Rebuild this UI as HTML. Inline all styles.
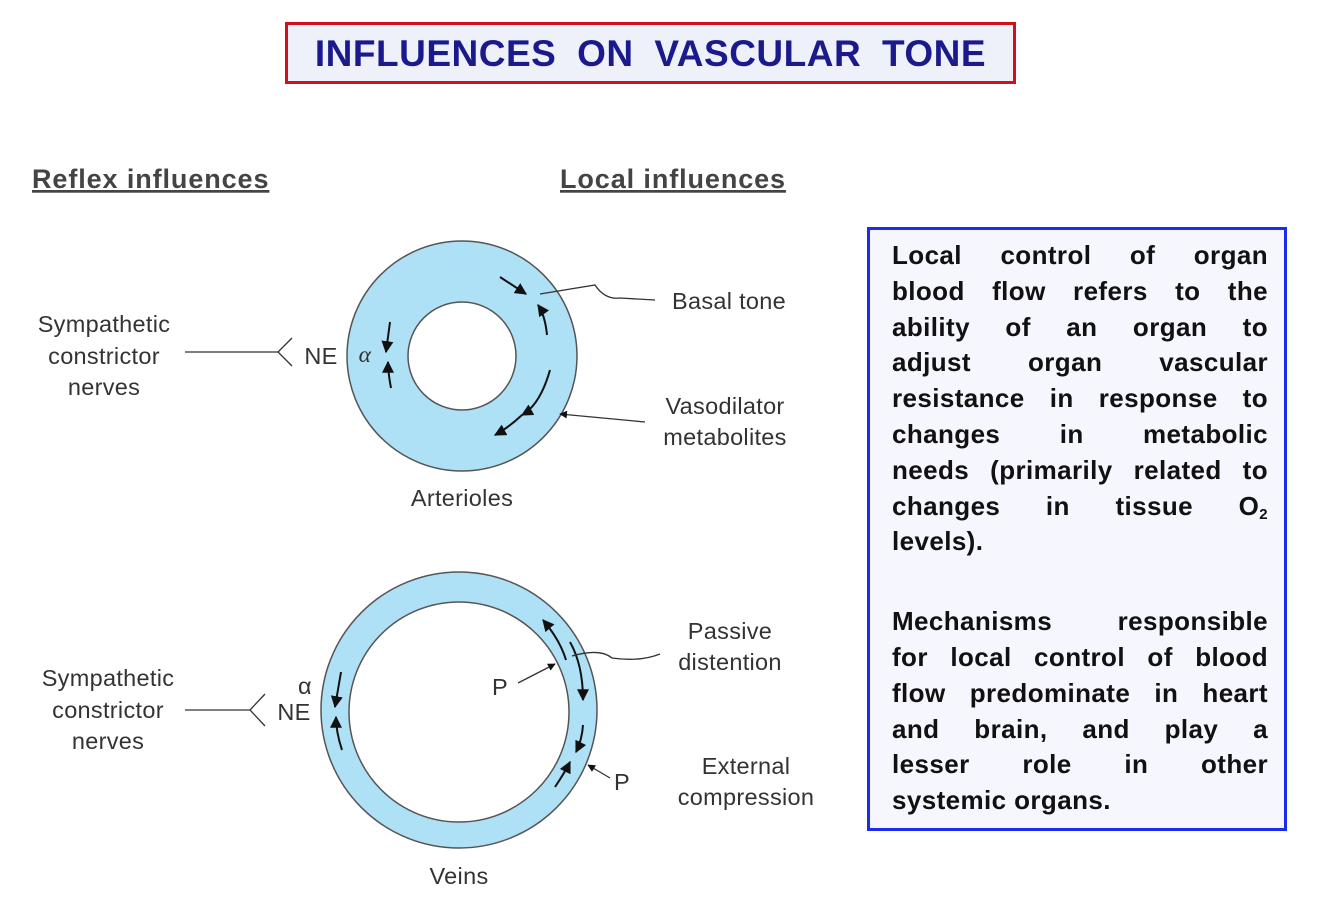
<!DOCTYPE html>
<html><head><meta charset="utf-8"><style>
body{margin:0;width:1328px;height:906px;background:#fff;position:relative;overflow:hidden;font-family:"Liberation Sans",Arial,sans-serif}
.title{position:absolute;left:285px;top:22px;width:725px;height:56px;border:3px solid #d0101a;background:#eef0fa;color:#1a1a8c;font-weight:bold;font-size:37px;text-align:center;line-height:58px;word-spacing:10px;letter-spacing:0.5px}
.box{position:absolute;left:867px;top:227px;width:376px;height:582px;border:3px solid #1a2cf0;background:#f6f6fe;padding:8px 16px 8px 22px;font-weight:bold;font-size:26px;letter-spacing:0.4px;line-height:35.8px;color:#111}
.box div{height:35.8px;text-align:justify;text-align-last:justify;white-space:nowrap}
.box div.l{text-align-last:left}
.box div.gap{height:44px}
sub{font-size:15px;line-height:0;vertical-align:-4px}
svg{position:absolute;left:0;top:0}
</style></head><body>
<div class="title">INFLUENCES ON VASCULAR TONE</div>
<svg width="860" height="906" font-family="Liberation Sans, Arial, sans-serif" fill="#333">
<defs><marker id="a" viewBox="0 0 10 10" refX="9" refY="5" markerWidth="6" markerHeight="6" orient="auto"><path d="M0,0L10,5L0,10z" fill="#111"/></marker></defs>
<g font-size="27" fill="#444" text-decoration="underline" font-weight="bold" letter-spacing="0.9">
<text x="32" y="188">Reflex influences</text>
<text x="560" y="188">Local influences</text></g>
<circle cx="462" cy="356" r="115" fill="#aee0f6" stroke="#555" stroke-width="1.5"/>
<circle cx="462" cy="356" r="54" fill="#fff" stroke="#555" stroke-width="1.5"/>
<circle cx="459" cy="710" r="138" fill="#aee0f6" stroke="#555" stroke-width="1.5"/>
<circle cx="459" cy="712" r="110" fill="#fff" stroke="#555" stroke-width="1.5"/>
<g stroke="#111" stroke-width="2" fill="none" marker-end="url(#a)">
<path d="M500,277 L526,294"/><path d="M547,335 Q545,315 538,305"/>
<path d="M550,370 Q540,405 522,415"/><path d="M522,415 Q508,428 495,435"/>
<path d="M390,322 L386,352"/><path d="M391,388 Q388,372 388,362"/>
<path d="M566,660 Q560,640 543,620"/><path d="M570,642 Q583,665 583,700"/>
<path d="M583,725 Q582,740 576,752"/><path d="M555,787 Q565,772 570,762"/>
<path d="M341,672 L335,707"/><path d="M342,750 Q336,732 336,717"/>
</g>
<g stroke="#333" stroke-width="1.3" fill="none">
<path d="M540,294 L595,285 Q605,300 620,298 L655,300"/>
<path d="M645,422 L560,414" marker-end="url(#a)"/>
<path d="M185,352 L278,352 M292,338 L278,352 L292,366"/>
<path d="M185,710 L250,710 M265,694 L250,710 L265,726"/>
<path d="M572,656 Q600,648 612,658 Q640,662 660,654"/>
<path d="M518,683 L555,664" marker-end="url(#a)"/>
<path d="M610,778 L588,765" marker-end="url(#a)"/>
</g>
<g font-size="23.5" fill="#333" text-anchor="middle" letter-spacing="0.3">
<text x="104" y="332">Sympathetic</text><text x="104" y="364">constrictor</text><text x="104" y="395">nerves</text>
<text x="108" y="686">Sympathetic</text><text x="108" y="718">constrictor</text><text x="108" y="749">nerves</text>
<text x="462" y="506">Arterioles</text><text x="459" y="884">Veins</text>
<text x="729" y="309">Basal tone</text>
<text x="725" y="414">Vasodilator</text><text x="725" y="445">metabolites</text>
<text x="730" y="639">Passive</text><text x="730" y="670">distention</text>
<text x="746" y="774">External</text><text x="746" y="805">compression</text>
<text x="321" y="364">NE</text><text x="294" y="720">NE</text>
<text x="305" y="694">α</text>
<text x="365" y="362" font-style="italic" font-family="Liberation Serif, serif">α</text>
<text x="500" y="695">P</text><text x="622" y="790">P</text>
</g>
</svg>
<div class="box">
<div>Local control of organ</div>
<div>blood flow refers to the</div>
<div>ability of an organ to</div>
<div>adjust organ vascular</div>
<div>resistance in response to</div>
<div>changes in metabolic</div>
<div>needs (primarily related to</div>
<div>changes in tissue O<sub>2</sub></div>
<div class="l">levels).</div>
<div class="gap"></div>
<div>Mechanisms responsible</div>
<div>for local control of blood</div>
<div>flow predominate in heart</div>
<div>and brain, and play a</div>
<div>lesser role in other</div>
<div class="l">systemic organs.</div>
</div>
</body></html>
